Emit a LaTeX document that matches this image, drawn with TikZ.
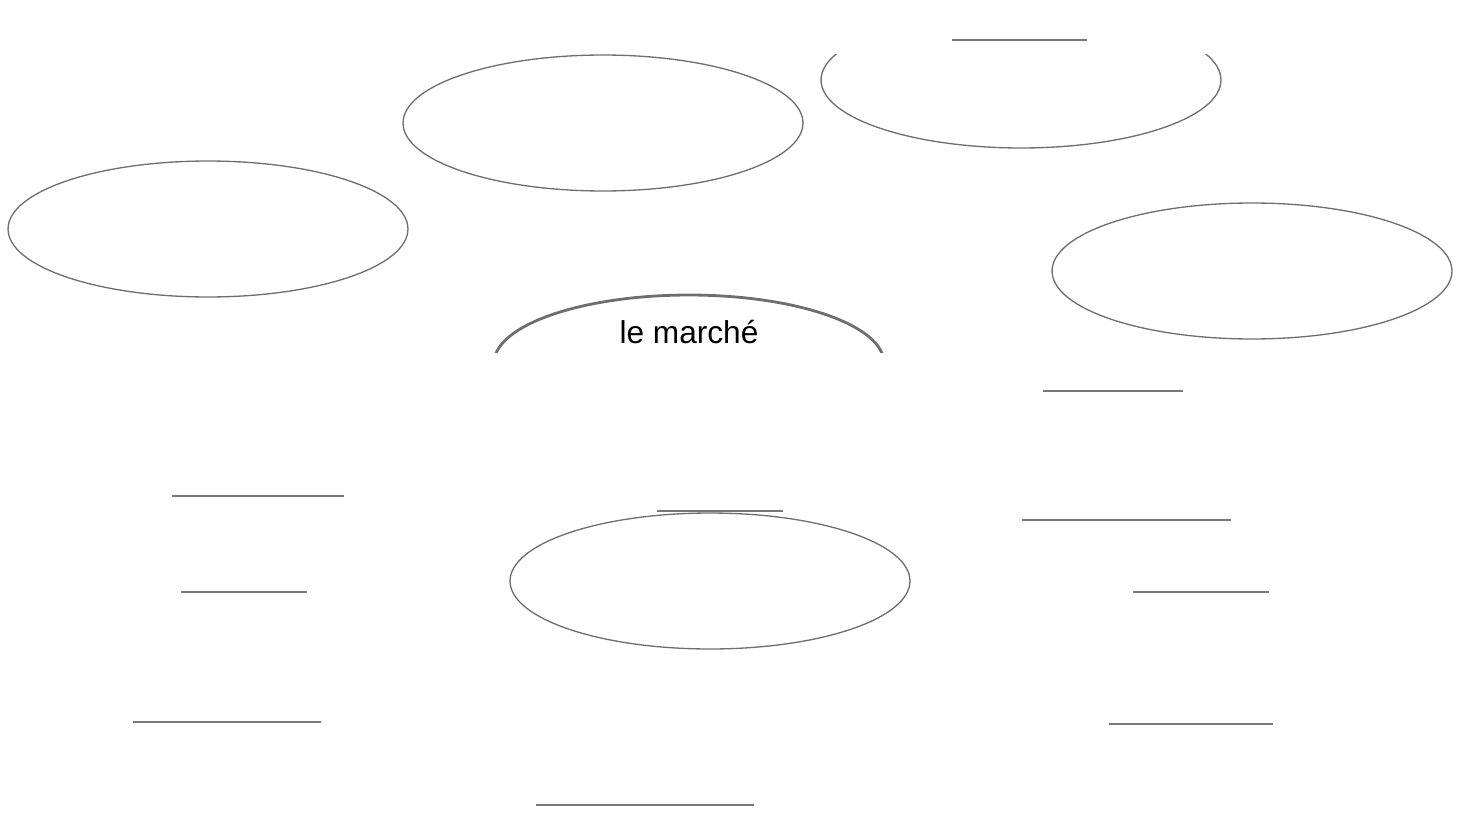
\documentclass[tikz,border=0pt]{standalone}
\usepackage{fontspec}
\setmainfont{Liberation Sans}
\usetikzlibrary{shapes.geometric}
\definecolor{inkcolor} {RGB}{110, 110, 110}
\definecolor{rulecolor}{RGB}{120, 120, 120}
\tikzset{
	bubble/.style={
		ellipse, minimum width=8cm, minimum height=2.72cm,
		draw=inkcolor, line width=0.75pt, inner sep=0pt
	},
	mainbubble/.style={
		bubble, minimum width=7.8cm, line width=1.6pt, draw=inkcolor
	},
	blankline/.style={
		draw=rulecolor, line width=1.1pt
	}
}

\begin{document}
\begin{tikzpicture}[x=0.02cm, y=-0.02cm]
	\useasboundingbox (0,0) rectangle (1462,838);
	
	%% ═══════════════════════════════
	%%  TOP BAND — bubbles
	%% ═══════════════════════════════
	\node[bubble] (leftbub)  at (208,229)  {};
	\node[bubble] (topbub)   at (603,123)  {};
	\node[bubble] (rightbub) at (1252,271) {};
	
	% clipped at the band's top edge
	\begin{scope}
		\clip (0,55) rectangle (1462,838);
		\node[bubble] (corner) at (1021,80) {};
	\end{scope}
	
	% clipped at the band's bottom edge
	\begin{scope}
		\clip (0,0) rectangle (1462,352);
		\node[mainbubble] (marche) at (689,363) {};
	\end{scope}
	\node[font=\fontsize{18}{22}\selectfont] (marchelabel) at (689,332) {le marché};
	
	%% ═══════════════════════════════
	%%  LOWER PART — centre bubble
	%% ═══════════════════════════════
	\node[bubble] (centrebub) at (710,581) {};
	
	%% ═══════════════════════════════
	%%  BLANK LINES
	%% ═══════════════════════════════
	\draw[blankline] (952,40)  -- (1087,40);
	\draw[blankline] (1043,391) -- (1183,391);
	\draw[blankline] (172,496) -- (344,496);
	\draw[blankline] (657,511) -- (783,511);
	\draw[blankline] (1022,520) -- (1231,520);
	\draw[blankline] (181,592) -- (307,592);
	\draw[blankline] (1133,592) -- (1269,592);
	\draw[blankline] (133,722) -- (321,722);
	\draw[blankline] (1109,724) -- (1273,724);
	\draw[blankline] (536,805) -- (754,805);
\end{tikzpicture}
\end{document}
